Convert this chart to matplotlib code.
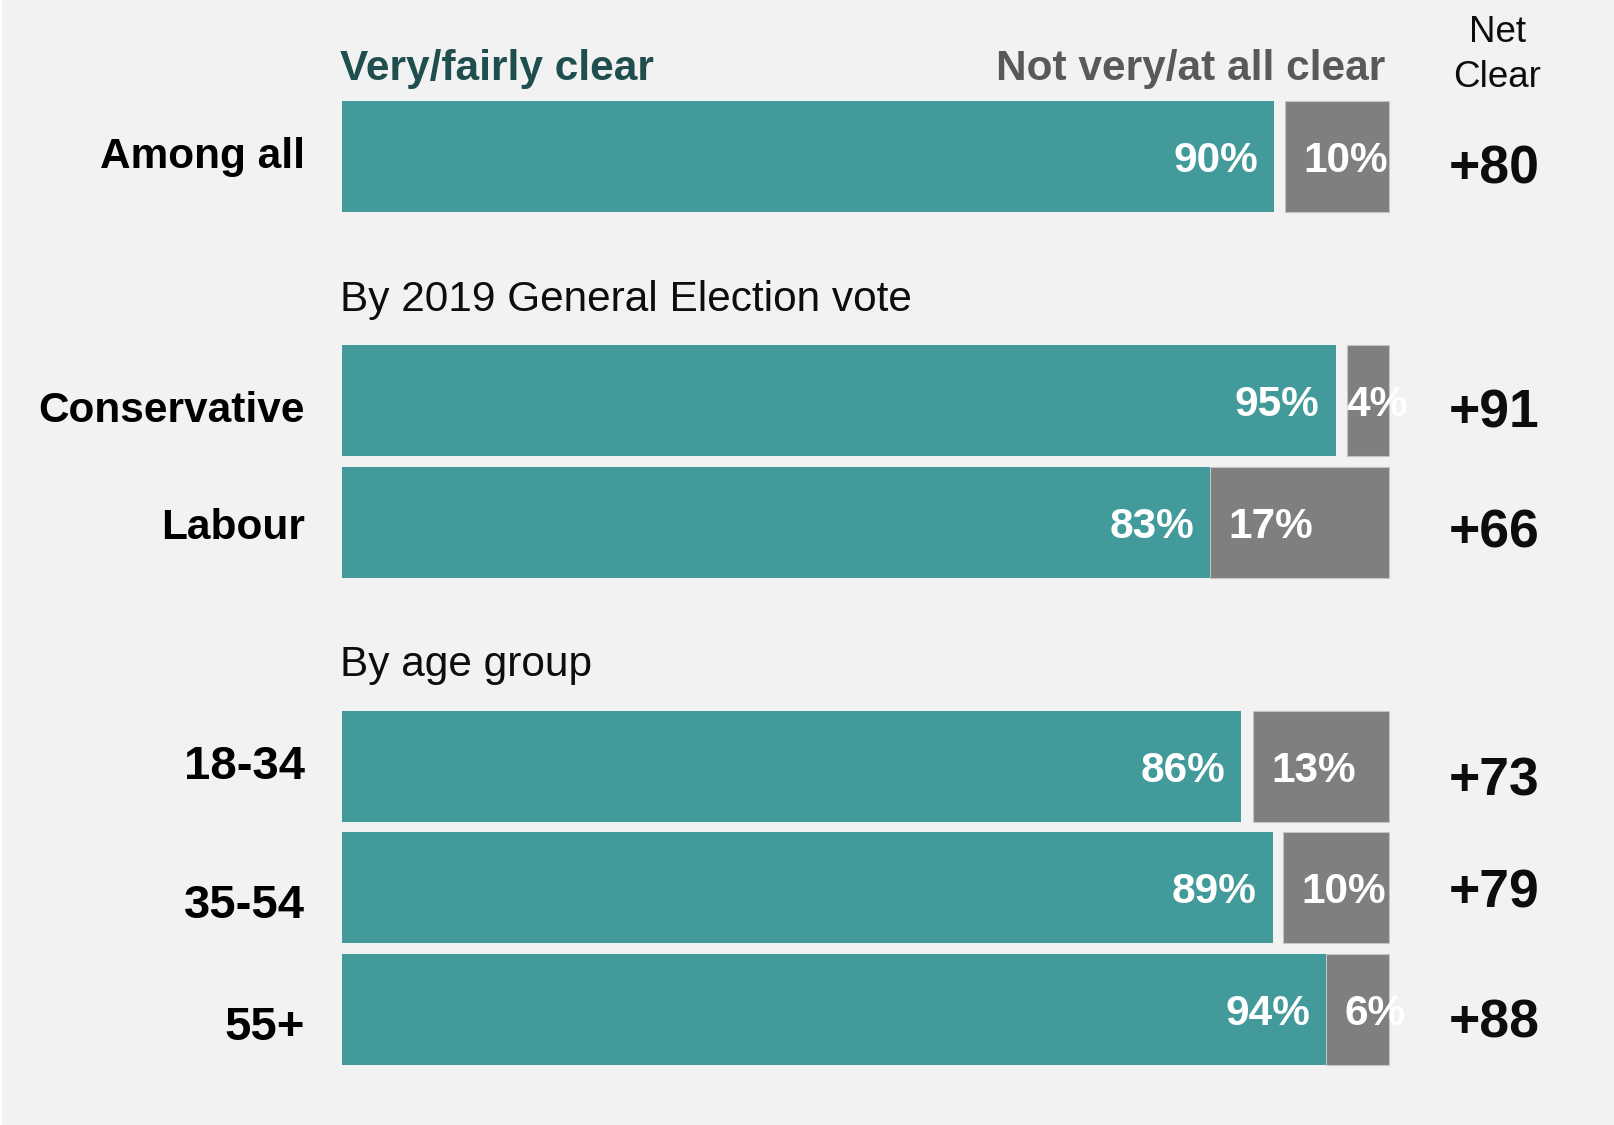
import matplotlib
matplotlib.use("Agg")
import matplotlib.pyplot as plt
import matplotlib.transforms as mtransforms
from matplotlib.patches import Rectangle

plt.rcParams['font.family'] = ['Liberation Sans', 'DejaVu Sans']

# - - - - - - - DATA - - - - - - - #
groups = ["Among all", "Conservative", "Labour", "18-34", "35-54", "55+"]
clear = [89.0, 94.9, 82.9, 85.9, 88.9, 94.0]        # very/fairly clear (bar length)
not_clear = [9.9, 4.0, 17.1, 13.0, 10.1, 6.0]       # not very/at all clear (bar length)
clear_labels = ["90%", "95%", "83%", "86%", "89%", "94%"]
not_clear_labels = ["10%", "4%", "17%", "13%", "10%", "6%"]
net_clear = [80, 91, 66, 73, 79, 88]
section_titles = ["By 2019 General Election vote", "By age group"]

# - - - - - - - LAYOUT - - - - - - - #
W, H = 1614, 1125
slots = [0, 2, 3, 5, 6, 7]                 # row slot of each bar
label_base = [168, 422, 539, 779, 918, 1040]   # baseline (px from top) of row labels
net_base = [183, 427, 548, 796, 908, 1037]     # baseline of net values
label_size = [30.5, 30.5, 30.5, 34, 34, 34]

teal = '#439A9A'
grey = '#7F7F7F'
bg = '#F2F2F2'

fig = plt.figure(figsize=(W / 100, H / 100), dpi=100, facecolor='white')
ax = fig.add_axes([0, 0, 1, 1])
ax.set_axis_off()

# x: 0..100 % mapped on 342..1389 px ; y: slots of 121.9 px, first bar centre at 156.5 px
x0, x1 = 342, 1389
sx = (x1 - x0) / 100
slot_px = 121.9
y0 = 156.5
ax.set_xlim(-x0 / sx, (W - x0) / sx)
ax.set_ylim((H - y0) / slot_px, -y0 / slot_px)

# pixel transform, origin top-left
px = mtransforms.Affine2D().scale(1, -1).translate(0, H)

# background panel (thin white strip on the left)
fig.patches.append(Rectangle((2, 0), W - 2, H, transform=px, facecolor=bg,
                             edgecolor='none', zorder=-5))

bar_h = 111 / slot_px
ax.barh(slots, not_clear, height=bar_h, left=[100 - v for v in not_clear],
        color=grey, edgecolor='#C4C4C4', linewidth=0.8, zorder=2)
ax.barh(slots, clear, height=bar_h, left=0, color=teal, edgecolor='none', zorder=3)

for i, s in enumerate(slots):
    ax.annotate(clear_labels[i], xy=(clear[i], s), xytext=(-16, 0),
                textcoords='offset pixels', ha='right', va='center_baseline',
                color='white', fontsize=30.5, fontweight='bold', zorder=4)
    off = 18 if not_clear[i] * sx > 50 else -1
    ax.annotate(not_clear_labels[i], xy=(100 - not_clear[i], s), xytext=(off, 0),
                textcoords='offset pixels', ha='left', va='center_baseline',
                color='white', fontsize=30.5, fontweight='bold', zorder=4)

    # row labels and net values
    fig.text(305, label_base[i], groups[i], transform=px, ha='right', va='baseline',
             fontsize=label_size[i], fontweight='bold', color='black')
    fig.text(1449, net_base[i], f"+{net_clear[i]}", transform=px, ha='left',
             va='baseline', fontsize=38.5, fontweight='bold', color='#0D0D0D')

# headers
fig.text(340, 80, "Very/fairly clear", transform=px, ha='left', va='baseline',
         fontsize=30.5, fontweight='bold', color='#1F4E4F')
fig.text(1385, 80, "Not very/at all clear", transform=px, ha='right', va='baseline',
         fontsize=30.5, fontweight='bold', color='#595959')
fig.text(1497, 42, "Net", transform=px, ha='center', va='baseline',
         fontsize=26.5, color='#0D0D0D')
fig.text(1497, 87, "Clear", transform=px, ha='center', va='baseline',
         fontsize=26.5, color='#0D0D0D')

# section titles
fig.text(340, 311, section_titles[0], transform=px, ha='left', va='baseline',
         fontsize=30.5, color='#0D0D0D')
fig.text(340, 676, section_titles[1], transform=px, ha='left', va='baseline',
         fontsize=30.5, color='#0D0D0D')

fig.savefig("out.png", dpi=100, facecolor=fig.get_facecolor())
